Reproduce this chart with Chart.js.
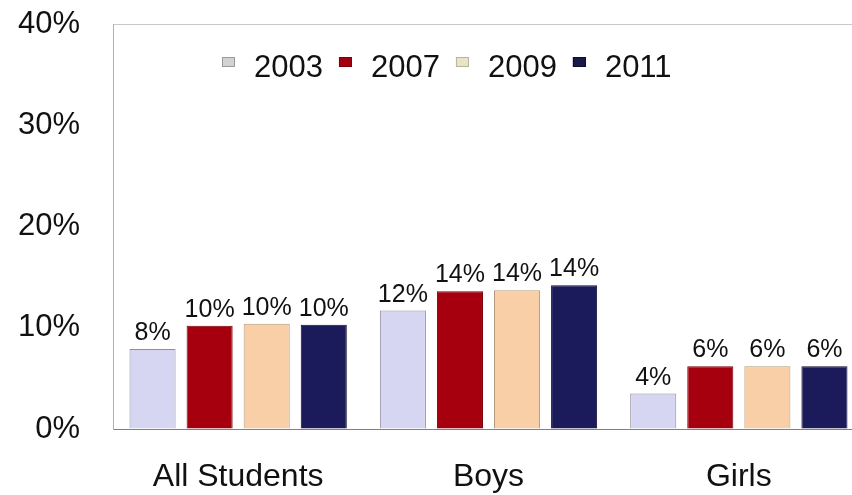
<!DOCTYPE html>
<html lang="en">
<head>
<meta charset="UTF-8">
<title>Students by year</title>
<script src="https://cdn.jsdelivr.net/npm/chart.js"></script>
<style>
  body, html {
    margin: 0;
    padding: 0;
    background: #fff;
    overflow: hidden;
  }
  /* canvas is a little wider than the window, the last group runs off the edge */
  canvas { display: block; }
</style>
</head>
<body>
<canvas id="pctChart" width="864" height="495"></canvas>
<script>
  const groups = ['All Students', 'Boys', 'Girls'];
  const years = ['2003', '2007', '2009', '2011'];
  const yTicks = [0, 10, 20, 30, 40];

  // percent per group, one array per year
  const v2003 = [7.9, 11.7, 3.5];
  const v2007 = [10.2, 13.6, 6.2];
  const v2009 = [10.4, 13.7, 6.2];
  const v2011 = [10.3, 14.2, 6.2];

  const fills = ['#d6d6f2', '#a6000e', '#f8cfa6', '#1b1b5c'];
  const edges = ['#8e8e9e', '#7a0008', '#b39a7c', '#0e0e30'];
  const swatches = ['#d2d2d2', '#a2000f', '#e8e4c8', '#1a1a48'];
  const swatchEdges = ['#9a9a9a', '#80000a', '#b8b498', '#0c0c2c'];

  const FONT = '"Liberation Sans", Arial, sans-serif';

  // value text above each bar
  const barValues = {
    id: 'barValues',
    afterDatasetsDraw(chart) {
      const ctx = chart.ctx;
      ctx.save();
      ctx.font = '25px ' + FONT;
      ctx.fillStyle = '#111';
      ctx.textAlign = 'center';
      ctx.textBaseline = 'alphabetic';
      chart.data.datasets.forEach((ds, i) => {
        chart.getDatasetMeta(i).data.forEach((bar, j) => {
          ctx.fillText(Math.round(ds.data[j]) + '%', bar.x, bar.y - 9);
        });
      });
      ctx.restore();
    }
  };

  // one-row legend sitting inside the plot, near the top
  const innerLegend = {
    id: 'innerLegend',
    afterDraw(chart) {
      const ctx = chart.ctx;
      const area = chart.chartArea;
      let x = area.left + 109;
      const cy = area.top + 44;
      ctx.save();
      ctx.font = '31px ' + FONT;
      ctx.textBaseline = 'middle';
      ctx.textAlign = 'left';
      years.forEach((y, i) => {
        ctx.fillStyle = swatches[i];
        ctx.strokeStyle = swatchEdges[i];
        ctx.lineWidth = 1;
        ctx.fillRect(x, cy - 11, 13, 10);
        ctx.strokeRect(x + 0.5, cy - 10.5, 12, 9);
        ctx.fillStyle = '#111';
        ctx.fillText(y, x + 32, cy);
        x += 32 + ctx.measureText(y).width + 16;
      });
      ctx.restore();
    }
  };

  const ctx = document.getElementById('pctChart').getContext('2d');
  new Chart(ctx, {
    type: 'bar',
    data: {
      labels: groups,
      datasets: [v2003, v2007, v2009, v2011].map((vals, i) => ({
        label: years[i],
        data: vals,
        backgroundColor: fills[i],
        borderColor: edges[i],
        borderWidth: 1,
        categoryPercentage: 0.912,
        barPercentage: 0.807
      }))
    },
    options: {
      responsive: false,
      animation: false,
      layout: { padding: { top: 24, bottom: 0, left: 0, right: 0 } },
      plugins: {
        tooltip: { enabled: false },
        legend: { display: false }
      },
      scales: {
        x: {
          afterFit(scale) {
            scale.height = 66;
          },
          grid: { display: false, drawTicks: false },
          border: { display: true, color: '#808080', width: 1 },
          ticks: {
            font: { family: FONT, size: 32 },
            color: '#111',
            padding: 29
          }
        },
        y: {
          min: 0,
          max: 40,
          afterBuildTicks(scale) {
            scale.ticks = yTicks.map(v => ({ value: v }));
          },
          afterFit(scale) {
            scale.width = 113;
            scale.paddingTop = 0;
            scale.paddingBottom = 0;
          },
          grid: {
            drawTicks: false,
            color: c => c.tick && c.tick.value === 40 ? '#c8c8c8' : 'rgba(0,0,0,0)'
          },
          border: { display: true, color: '#b0b0b0', width: 1 },
          ticks: {
            font: { family: FONT, size: 31, lineHeight: 1 },
            color: '#111',
            padding: 33,
            callback: v => v + '%'
          }
        }
      }
    },
    plugins: [barValues, innerLegend]
  });
</script>
</body>
</html>
